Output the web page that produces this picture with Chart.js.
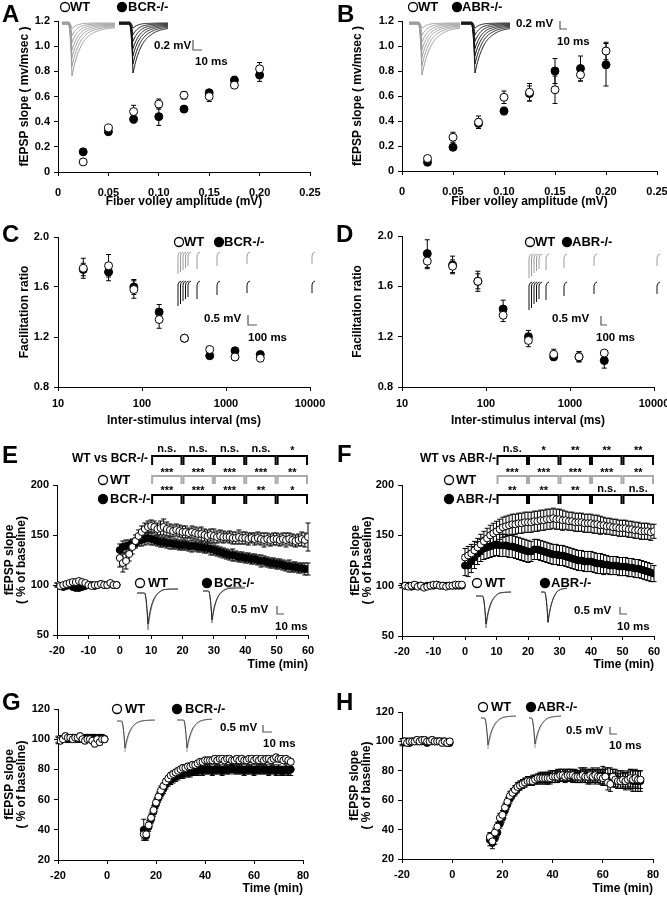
<!DOCTYPE html>
<html>
<head>
<meta charset="utf-8">
<script src="https://cdn.jsdelivr.net/npm/chart.js@4.4.1/dist/chart.umd.min.js"></script>
<style>
    html, body { margin: 0; padding: 0; background: #fff; }
    body { width: 667px; height: 899px; position: relative; overflow: hidden; }
    canvas { position: absolute; }
</style>
</head>
<body>
<script>
// == Data: input/output curves (A, B) ==
const fiberVolley = [0.025, 0.05, 0.075, 0.1, 0.125, 0.15, 0.175, 0.2];
const ioWtA = [0.08, 0.35, 0.48, 0.54, 0.61, 0.60, 0.69, 0.82];
const ioWtAErr = [0.02, 0.02, 0.05, 0.04, 0.03, 0.04, 0.02, 0.05];
const ioBcrA = [0.16, 0.32, 0.42, 0.44, 0.50, 0.63, 0.73, 0.77];
const ioBcrAErr = [0.02, 0.02, 0.03, 0.07, 0.02, 0.02, 0.03, 0.05];
const ioWtB = [0.10, 0.27, 0.39, 0.59, 0.63, 0.65, 0.77, 0.96];
const ioWtBErr = [0.02, 0.04, 0.05, 0.05, 0.07, 0.11, 0.05, 0.07];
const ioAbrB = [0.07, 0.19, 0.38, 0.48, 0.62, 0.80, 0.82, 0.85];
const ioAbrBErr = [0.01, 0.02, 0.04, 0.03, 0.06, 0.10, 0.10, 0.17];

// == Data: paired-pulse facilitation (C, D) ==
const isiMs = [20, 40, 80, 160, 320, 640, 1280, 2560];
const isiTicks = [10, 100, 1000, 10000];
const ppfWtC = [1.75, 1.77, 1.58, 1.34, 1.19, 1.10, 1.04, 1.03];
const ppfWtCErr = [0.08, 0.09, 0.07, 0.07, 0.02, 0.02, 0.02, 0.02];
const ppfBcrC = [1.74, 1.72, 1.60, 1.40, 1.19, 1.05, 1.09, 1.06];
const ppfBcrCErr = [0.05, 0.07, 0.06, 0.06, 0.02, 0.02, 0.02, 0.02];
const ppfWtD = [1.80, 1.76, 1.64, 1.37, 1.17, 1.06, 1.04, 1.07];
const ppfWtDErr = [0.06, 0.05, 0.08, 0.05, 0.05, 0.04, 0.04, 0.02];
const ppfAbrD = [1.86, 1.77, 1.64, 1.42, 1.20, 1.04, 1.04, 1.01];
const ppfAbrDErr = [0.11, 0.07, 0.06, 0.07, 0.05, 0.03, 0.04, 0.06];

// == Data: LTP (E, F) ==
const timeLtp = [-20, -19, -18, -17, -16, -15, -14, -13, -12, -11, -10, -9, -8, -7, -6, -5, -4, -3, -2, -1,
    0, 1, 2, 3, 4, 5, 6, 7, 8, 9, 10, 11, 12, 13, 14, 15, 16, 17, 18, 19, 20, 21, 22, 23, 24, 25, 26, 27, 28, 29, 30,
    31, 32, 33, 34, 35, 36, 37, 38, 39, 40, 41, 42, 43, 44, 45, 46, 47, 48, 49, 50, 51, 52, 53, 54, 55, 56, 57, 58, 59, 60];
const ltpWtE = [100, 99, 100, 101, 102, 103, 103, 104, 103, 102, 100, 99, 100, 100, 101, 100, 100, 102, 100, 100,
    127, 122, 124, 131, 138, 144, 149, 153, 156, 158, 159, 158, 156, 157, 158, 156, 155, 154, 155, 154,
    153, 153, 152, 153, 152, 151, 151, 150, 149, 150, 149, 148, 149, 148, 148, 148, 147, 147, 148, 147,
    147, 146, 147, 146, 147, 146, 145, 146, 145, 146, 146, 145, 146, 145, 146, 145, 144, 145, 146, 145, 148];
const ltpWtEErr = [2, 2, 2, 2, 2, 2, 2, 2, 2, 2, 2, 2, 2, 2, 2, 2, 2, 2, 2, 2,
    9, 9, 8, 7, 7, 6, 6, 6, 6, 6, 6, 6, 6, 7, 8, 7, 6, 6, 6, 6,
    6, 6, 5, 6, 6, 6, 7, 6, 6, 6, 7, 6, 6, 6, 5, 6, 6, 6, 7, 6,
    6, 6, 5, 6, 6, 6, 7, 6, 6, 6, 6, 6, 6, 7, 6, 6, 6, 6, 7, 7, 14];
const ltpBcrE = [100, 99, 98, 99, 100, 98, 97, 97, 98, 99, 100, 100, 99, 100, 101, 100, 100, 101, 100, 100,
    135, 138, 139, 140, 141, 142, 144, 145, 146, 147, 146, 145, 144, 143, 143, 142, 142, 141, 141, 140,
    140, 140, 139, 139, 139, 138, 138, 137, 137, 136, 135, 134, 133, 132, 131, 130, 130, 129, 128, 128,
    127, 127, 126, 126, 125, 124, 124, 123, 122, 122, 121, 121, 120, 119, 119, 118, 118, 117, 117, 116, 116];
const ltpBcrEErr = [2, 2, 2, 2, 2, 2, 2, 2, 2, 2, 2, 2, 2, 2, 2, 2, 2, 2, 2, 2,
    6, 6, 6, 5, 5, 5, 5, 6, 6, 6, 6, 5, 5, 5, 5, 5, 6, 5, 5, 5,
    5, 5, 5, 6, 5, 5, 5, 5, 5, 6, 5, 5, 5, 5, 5, 5, 6, 5, 5, 5,
    5, 5, 5, 5, 5, 6, 5, 5, 5, 5, 5, 5, 5, 5, 6, 5, 5, 5, 5, 6, 6];
const ltpWtF = [100, 100, 99, 100, 101, 99, 100, 98, 99, 100, 101, 101, 100, 100, 99, 100, 100, 101, 101, 101,
    128, 130, 132, 135, 138, 141, 144, 147, 150, 152, 154, 156, 158, 159, 160, 161, 161, 162, 162, 163,
    163, 163, 164, 164, 165, 165, 166, 166, 167, 166, 166, 165, 165, 164, 164, 163, 163, 163, 162, 162,
    162, 161, 161, 160, 160, 159, 159, 158, 158, 157, 157, 157, 156, 156, 155, 155, 154, 154, 154, 153, 154];
const ltpWtFErr = [2, 2, 2, 2, 2, 2, 2, 2, 2, 2, 2, 2, 2, 2, 2, 2, 2, 2, 2, 2,
    9, 9, 9, 9, 9, 10, 10, 10, 10, 10, 10, 10, 10, 10, 10, 10, 10, 10, 10, 10,
    10, 10, 10, 10, 10, 10, 10, 10, 10, 10, 10, 10, 9, 9, 9, 9, 9, 9, 9, 9,
    9, 9, 9, 9, 8, 8, 8, 8, 8, 8, 8, 8, 8, 8, 8, 8, 8, 8, 8, 8, 7];
const ltpAbrF = [100, 100, 100, 99, 100, 100, 100, 99, 100, 100, 100, 101, 100, 100, 100, 100, 100, 100, 100, 100,
    120, 120, 124, 128, 132, 135, 137, 138, 139, 140, 141, 140, 140, 140, 139, 139, 138, 137, 136, 135,
    134, 134, 136, 136, 135, 134, 133, 132, 131, 131, 130, 130, 129, 128, 127, 126, 125, 125, 124, 124,
    124, 123, 122, 122, 121, 121, 120, 120, 120, 119, 119, 119, 118, 118, 117, 117, 116, 115, 114, 113, 112];
const ltpAbrFErr = [2, 2, 2, 2, 2, 2, 2, 2, 2, 2, 2, 2, 2, 2, 2, 2, 2, 2, 2, 2,
    10, 11, 11, 11, 11, 11, 11, 11, 11, 11, 11, 11, 11, 11, 11, 11, 11, 11, 11, 11,
    11, 10, 10, 10, 10, 10, 10, 10, 10, 10, 10, 10, 10, 10, 10, 10, 10, 10, 10, 10,
    10, 10, 10, 10, 10, 9, 9, 9, 9, 9, 9, 9, 9, 9, 9, 9, 9, 9, 9, 9, 8];

// == Data: LTD (G, H) ==
const timeLtd = [-20, -19, -18, -17, -16, -15, -14, -13, -12, -11, -10, -9, -8, -7, -6, -5, -4, -3, -2, -1,
    15, 16, 17, 18, 19, 20, 21, 22, 23, 24, 25, 26, 27, 28, 29, 30, 31, 32, 33, 34, 35, 36, 37, 38, 39, 40,
    41, 42, 43, 44, 45, 46, 47, 48, 49, 50, 51, 52, 53, 54, 55, 56, 57, 58, 59, 60,
    61, 62, 63, 64, 65, 66, 67, 68, 69, 70, 71, 72, 73, 74, 75];
const ltdWtG = [100, 99, 100, 102, 101, 101, 100, 101, 101, 102, 100, 99, 100, 100, 99, 97, 100, 98, 100, 100,
    37, 37, 43, 48, 53, 58, 62, 66, 69, 72, 74, 76, 77, 78, 79, 80, 81, 81, 82, 82,
    83, 83, 84, 85, 85, 86, 86, 86, 86, 87, 86, 87, 87, 86, 87, 87, 86, 86, 87, 86,
    87, 86, 86, 87, 87, 86, 87, 86, 87, 86, 87, 87, 86, 87, 88, 87, 87, 86, 87, 86, 85];
const ltdWtGErr = [2, 2, 2, 2, 2, 2, 2, 2, 2, 2, 2, 2, 2, 2, 2, 2, 2, 2, 2, 2,
    3, 3, 3, 3, 3, 3, 3, 3, 2, 2, 2, 2, 2, 2, 2, 2, 2, 2, 2, 2,
    2, 2, 2, 2, 2, 2, 2, 2, 2, 2, 2, 2, 2, 2, 2, 2, 2, 2, 2, 2,
    2, 2, 2, 2, 2, 2, 2, 2, 2, 2, 2, 2, 2, 2, 2, 2, 2, 2, 2, 2, 2];
const ltdBcrG = [99, 100, 100, 101, 100, 100, 101, 100, 101, 100, 100, 101, 101, 101, 101, 101, 100, 101, 101, 100,
    40, 36, 42, 47, 52, 57, 61, 64, 67, 70, 72, 73, 74, 75, 76, 77, 77, 78, 78, 78,
    79, 79, 79, 80, 79, 80, 80, 80, 79, 80, 80, 80, 79, 80, 80, 80, 81, 80, 80, 80,
    80, 79, 80, 80, 80, 79, 80, 80, 80, 80, 80, 79, 80, 80, 79, 80, 79, 79, 80, 79, 80];
const ltdBcrGErr = [2, 2, 2, 2, 2, 2, 2, 2, 2, 2, 2, 2, 2, 2, 2, 2, 2, 2, 2, 2,
    7, 3, 3, 3, 3, 3, 3, 3, 3, 3, 3, 3, 3, 3, 3, 3, 3, 3, 3, 3,
    3, 3, 3, 3, 3, 3, 3, 3, 3, 3, 3, 3, 3, 3, 3, 3, 3, 3, 3, 3,
    3, 3, 3, 3, 3, 3, 3, 3, 3, 3, 3, 3, 3, 3, 3, 3, 3, 3, 3, 3, 4];
const ltdWtH = [100, 100, 99, 100, 100, 100, 101, 100, 101, 101, 100, 100, 101, 100, 100, 100, 99, 100, 99, 100,
    35, 32, 38, 42, 48, 50, 55, 59, 63, 65, 67, 69, 70, 71, 72, 73, 73, 73, 74, 75,
    75, 75, 75, 75, 75, 76, 76, 76, 77, 77, 76, 77, 77, 77, 76, 76, 76, 77, 76, 76,
    77, 76, 77, 76, 76, 75, 76, 72, 71, 76, 74, 73, 73, 74, 73, 74, 75, 74, 75, 74, 74];
const ltdWtHErr = [2, 2, 2, 2, 2, 2, 2, 2, 2, 2, 2, 2, 2, 2, 2, 2, 2, 2, 2, 2,
    3, 3, 3, 3, 3, 3, 3, 3, 3, 3, 3, 3, 3, 3, 3, 3, 3, 3, 3, 3,
    3, 3, 3, 4, 4, 4, 4, 4, 4, 4, 4, 4, 4, 4, 4, 4, 4, 4, 4, 4,
    4, 4, 4, 4, 5, 5, 5, 5, 5, 5, 5, 5, 5, 5, 5, 5, 6, 6, 6, 6, 6];
const ltdAbrH = [99, 100, 100, 99, 100, 100, 100, 100, 100, 100, 99, 100, 100, 100, 100, 100, 100, 100, 99, 99,
    33, 31, 34, 38, 44, 48, 53, 57, 61, 64, 66, 68, 70, 71, 72, 73, 73, 74, 74, 74,
    75, 75, 75, 75, 76, 76, 76, 77, 77, 77, 77, 77, 77, 76, 77, 76, 77, 77, 77, 76,
    76, 77, 76, 77, 76, 77, 76, 76, 76, 75, 75, 74, 74, 74, 73, 74, 74, 73, 73, 73, 73];
const ltdAbrHErr = [2, 2, 2, 2, 2, 2, 2, 2, 2, 2, 2, 2, 2, 2, 2, 2, 2, 2, 2, 2,
    4, 4, 4, 3, 3, 3, 3, 3, 3, 3, 3, 3, 3, 3, 3, 3, 3, 3, 3, 3,
    4, 4, 4, 4, 4, 4, 4, 4, 4, 4, 4, 4, 4, 4, 4, 4, 5, 5, 5, 5,
    5, 5, 5, 5, 5, 6, 6, 6, 6, 6, 6, 6, 6, 6, 6, 6, 7, 7, 7, 7, 7];

// == Significance (E, F) ==
const sigBounds = [10, 20, 30, 40, 50, 60];
const sigE = [
    ['n.s.', 'n.s.', 'n.s.', 'n.s.', '*'],
    ['***', '***', '***', '***', '**'],
    ['***', '***', '***', '**', '*'],
];
const sigF = [
    ['n.s.', '*', '**', '**', '**'],
    ['***', '***', '***', '***', '**'],
    ['**', '**', '**', 'n.s.', 'n.s.'],
];

// == Utils ==
const FAMILY = "'Liberation Sans', Arial, sans-serif";
Chart.defaults.font.family = FAMILY;
Chart.defaults.color = '#000';

function font(size) {
    return `bold ${size}px ${FAMILY}`;
}

function series(xs, ys, errs, filled, r) {
    return {
        data: xs.map((x, i) => ({ x, y: ys[i] })),
        errors: errs,
        pointRadius: r,
        pointHoverRadius: r,
        pointBackgroundColor: filled ? '#000' : '#fff',
        pointBorderColor: '#000',
        pointBorderWidth: 1,
        showLine: false
    };
}

function legendItem(ctx, x, y, filled, text, tx) {
    ctx.beginPath();
    ctx.arc(x, y, 4.5, 0, Math.PI * 2);
    ctx.fillStyle = filled ? '#000' : '#fff';
    ctx.fill();
    ctx.lineWidth = 1.3;
    ctx.strokeStyle = '#000';
    ctx.stroke();
    ctx.fillStyle = '#000';
    ctx.font = font(13);
    ctx.textAlign = 'left';
    ctx.textBaseline = 'middle';
    ctx.fillText(text, tx, y + 0.5);
}

// fEPSP-like waveform: fast downward deflection then recovery
function drawTrace(ctx, x0, x1, xDip, yBase, yPeak, yEnd, color, tau) {
    ctx.strokeStyle = color;
    ctx.lineWidth = 1;
    ctx.beginPath();
    const rise = 3.5;
    for (let x = x0; x <= x1; x += 0.5) {
        let f = 0;
        if (x >= xDip) f = Math.exp(-(x - xDip) / tau);
        else if (x > xDip - rise) f = Math.pow((x - xDip + rise) / rise, 2);
        const drift = x > xDip ? (yEnd - yBase) * Math.min(1, (x - xDip) / ((x1 - xDip) * 0.5)) : 0;
        const y = yBase + drift * (1 - f) + (yPeak - yBase) * f;
        if (x === x0) ctx.moveTo(x, y); else ctx.lineTo(x, y);
    }
    ctx.stroke();
}

function traceFamily(ctx, x0, x1, xDip, yBase, yMax, color) {
    [0.12, 0.25, 0.38, 0.52, 0.66, 0.82, 1].forEach((f, i) => {
        drawTrace(ctx, x0, x1, xDip, yBase + i * 0.4, yBase + (yMax - yBase) * f, yBase + 1 + i * 0.7, color, 6 + f * 4);
    });
}

function spikes(ctx, xs, yTop, lens, color) {
    ctx.strokeStyle = color;
    ctx.lineWidth = 1;
    xs.forEach((x, i) => {
        ctx.beginPath();
        ctx.moveTo(x + 3, yTop - 2);
        ctx.quadraticCurveTo(x, yTop - 1, x, yTop + 2);
        ctx.lineTo(x, yTop + lens[i]);
        ctx.stroke();
    });
}

function scaleBar(ctx, s) {
    ctx.fillStyle = '#000';
    ctx.font = font(11.5);
    ctx.textAlign = 'left';
    ctx.textBaseline = 'middle';
    ctx.fillText(s.mv, s.mvAt[0], s.mvAt[1]);
    ctx.fillText(s.ms, s.msAt[0], s.msAt[1]);
    ctx.strokeStyle = '#555';
    ctx.lineWidth = 1.2;
    ctx.beginPath();
    ctx.moveTo(s.bar[0], s.bar[1]);
    ctx.lineTo(s.bar[0], s.bar[2]);
    ctx.lineTo(s.bar[3], s.bar[2]);
    ctx.stroke();
}

// brackets sit on the chart's own time axis; ox converts canvas x to page x
function sigBrackets(chart, ctx, sig, ox) {
    const xs = chart.scales.x;
    const rowY = [[449, 456, 465], [471, 476, 484], [489, 495, 504]];
    const colors = ['#000', '#aaa', '#000'];
    sig.rows.forEach((row, r) => {
        row.forEach((label, i) => {
            const a = ox + xs.getPixelForValue(sigBounds[i]) + 1;
            const b = ox + xs.getPixelForValue(sigBounds[i + 1]) - 1;
            ctx.strokeStyle = colors[r];
            ctx.lineWidth = 2;
            ctx.beginPath();
            ctx.moveTo(a, rowY[r][2]);
            ctx.lineTo(a, rowY[r][1]);
            ctx.lineTo(b, rowY[r][1]);
            ctx.lineTo(b, rowY[r][2]);
            ctx.stroke();
            ctx.fillStyle = '#000';
            ctx.font = font(11);
            ctx.textAlign = 'center';
            ctx.textBaseline = 'middle';
            ctx.fillText(label, (a + b) / 2, rowY[r][0] + (label.startsWith('*') ? 2 : 0));
        });
    });
    ctx.font = font(12);
    ctx.textAlign = 'right';
    ctx.textBaseline = 'middle';
    ctx.fillStyle = '#000';
    ctx.fillText(sig.title, sig.titleAt[0], sig.titleAt[1]);
    legendItem(ctx, sig.key[0], 480, false, 'WT', sig.key[1]);
    legendItem(ctx, sig.key[0], 499, true, sig.ko, sig.key[1]);
}

// == Error bars ==
Chart.register({
    id: 'errorBars',
    beforeDatasetsDraw(chart) {
        const ctx = chart.ctx;
        const yScale = chart.scales.y;
        ctx.save();
        ctx.strokeStyle = '#000';
        ctx.lineWidth = 1;
        chart.data.datasets.forEach((ds, di) => {
            if (!ds.errors) return;
            const meta = chart.getDatasetMeta(di);
            meta.data.forEach((pt, i) => {
                const v = ds.data[i].y, e = ds.errors[i];
                const yt = yScale.getPixelForValue(v + e);
                const yb = yScale.getPixelForValue(v - e);
                const cap = 2.5;
                ctx.beginPath();
                ctx.moveTo(pt.x, yt); ctx.lineTo(pt.x, yb);
                ctx.moveTo(pt.x - cap, yt); ctx.lineTo(pt.x + cap, yt);
                ctx.moveTo(pt.x - cap, yb); ctx.lineTo(pt.x + cap, yb);
                ctx.stroke();
            });
        });
        ctx.restore();
    }
});

// == Panels ==
function buildPanel(p) {
    const [cx, cy, cw, ch] = p.box;
    const [L, T, R, B] = p.area;
    const canvas = document.createElement('canvas');
    canvas.width = cw;
    canvas.height = ch;
    canvas.style.left = cx + 'px';
    canvas.style.top = cy + 'px';
    canvas.style.width = cw + 'px';
    canvas.style.height = ch + 'px';
    document.body.appendChild(canvas);

    const border = { display: true, color: '#000', width: 1 };
    const grid = { display: true, drawOnChartArea: false, drawTicks: true, tickLength: 4, color: '#000' };
    const tickFont = { size: 11, weight: 'bold', family: FAMILY };
    const titleFont = { size: 12, weight: 'bold', family: FAMILY, lineHeight: 1 };

    const x = {
        type: p.x.type || 'linear', min: p.x.min, max: p.x.max, border, grid,
        ticks: { font: tickFont, color: '#000', padding: p.x.pad, autoSkip: false, maxRotation: 0, stepSize: p.x.step },
        title: { display: true, text: p.x.title, align: p.x.align || 'center', font: titleFont, color: '#000', padding: { top: 0, bottom: p.x.titlePad } },
        afterFit(s) { s.height = cy + ch - B; s.paddingLeft = 0; s.paddingRight = 0; }
    };
    if (p.x.type === 'logarithmic') {
        x.afterBuildTicks = s => { s.ticks = isiTicks.map(v => ({ value: v })); };
        x.ticks.callback = v => String(v);
    }
    const y = {
        type: 'linear', min: p.y.min, max: p.y.max, border, grid,
        ticks: { font: tickFont, color: '#000', padding: p.y.pad, stepSize: p.y.step },
        title: { display: true, text: p.y.title, font: titleFont, color: '#000', padding: { top: p.y.titlePad, bottom: 0 } },
        afterFit(s) { s.width = L - cx; s.paddingTop = 0; s.paddingBottom = 0; }
    };

    const deco = {
        id: 'deco' + p.letter,
        afterDraw(chart) {
            const ctx = chart.ctx;
            ctx.save();
            ctx.translate(-cx, -cy);
            ctx.fillStyle = '#000';
            ctx.font = font(24);
            ctx.textAlign = 'left';
            ctx.textBaseline = 'alphabetic';
            ctx.fillText(p.letter, p.letterAt[0], p.letterAt[1]);
            p.legend.forEach(([lx, ly, filled, text, tx]) => legendItem(ctx, lx, ly, filled, text, tx));
            scaleBar(ctx, p.scale);
            p.traces(ctx);
            if (p.sig) sigBrackets(chart, ctx, p.sig, cx);
            ctx.restore();
        }
    };

    new Chart(canvas, {
        type: 'scatter',
        data: { datasets: p.datasets },
        options: {
            responsive: false,
            animation: false,
            events: [],
            layout: { padding: { left: 0, top: T - cy, right: cx + cw - R, bottom: 0 } },
            plugins: { legend: { display: false }, tooltip: { enabled: false } },
            scales: { x, y }
        },
        plugins: [deco]
    });
}

const ioY = { min: 0, max: 1.2, step: 0.2, pad: 4, title: 'fEPSP slope ( mv/msec )' };
const ioX = { min: 0, max: 0.25, step: 0.05, pad: 10, title: 'Fiber volley amplitude (mV)', titlePad: 2 };
const ppfY = { min: 0.8, max: 2, step: 0.4, pad: 5, title: 'Facilitation ratio' };
const ppfX = { type: 'logarithmic', min: 10, max: 10000, pad: 6, title: 'Inter-stimulus interval (ms)', titlePad: 3 };
const ltpY = { min: 50, max: 200, step: 50, pad: 4, title: ['fEPSP slope', '( % of baseline)'] };
const ltpX = { min: -20, max: 60, step: 10, pad: 5, title: 'Time (min)', align: 'end', titlePad: 4 };
const ltdY = { min: 20, max: 120, step: 20, pad: 4, title: ['fEPSP slope', '( % of baseline)'] };
const ltdX = { min: -20, max: 80, step: 20, pad: 5, title: 'Time (min)', align: 'end', titlePad: 4 };

buildPanel({
    letter: 'A', letterAt: [2, 22], box: [0, 0, 334, 210], area: [58, 21, 310, 172],
    x: ioX, y: Object.assign({ titlePad: 19 }, ioY),
    datasets: [series(fiberVolley, ioWtA, ioWtAErr, false, 4), series(fiberVolley, ioBcrA, ioBcrAErr, true, 4)],
    legend: [[65, 7, false, 'WT', 70], [122, 7, true, 'BCR-/-', 128]],
    scale: { mv: '0.2 mV', mvAt: [154, 46], ms: '10 ms', msAt: [195, 62], bar: [193, 40, 50, 202] },
    traces: ctx => {
        traceFamily(ctx, 62, 115, 72, 22, 76, '#999');
        traceFamily(ctx, 119, 168, 133, 22, 73, '#111');
    }
});

buildPanel({
    letter: 'B', letterAt: [337, 22], box: [334, 0, 333, 210], area: [402, 21, 657, 171],
    x: ioX, y: Object.assign({ titlePad: 18 }, ioY),
    datasets: [series(fiberVolley, ioWtB, ioWtBErr, false, 4), series(fiberVolley, ioAbrB, ioAbrBErr, true, 4)],
    legend: [[413, 7, false, 'WT', 418], [457, 7, true, 'ABR-/-', 462]],
    scale: { mv: '0.2 mV', mvAt: [516, 24], ms: '10 ms', msAt: [557, 42], bar: [560, 21, 29, 567] },
    traces: ctx => {
        traceFamily(ctx, 409, 460, 422, 22, 75, '#999');
        traceFamily(ctx, 461, 510, 475, 22, 73, '#111');
    }
});

buildPanel({
    letter: 'C', letterAt: [2, 242], box: [0, 215, 334, 215], area: [58, 237, 310, 387],
    x: ppfX, y: Object.assign({ titlePad: 19 }, ppfY),
    datasets: [series(isiMs, ppfWtC, ppfWtCErr, false, 4), series(isiMs, ppfBcrC, ppfBcrCErr, true, 4)],
    legend: [[179, 242, false, 'WT', 184], [219, 242, true, 'BCR-/-', 224]],
    scale: { mv: '0.5 mV', mvAt: [204, 319], ms: '100 ms', msAt: [248, 338], bar: [248, 315, 325, 257] },
    traces: ctx => {
        spikes(ctx, [178, 180.5, 183, 185.5, 188, 197, 217, 247, 312], 254, [20, 18, 16, 14, 12, 15, 12, 10, 10], '#999');
        spikes(ctx, [178, 180.5, 183, 185.5, 188, 197, 217, 247, 312], 283, [23, 21, 18, 16, 14, 16, 12, 10, 10], '#111');
    }
});

buildPanel({
    letter: 'D', letterAt: [336, 242], box: [334, 215, 333, 215], area: [402, 236, 654, 387],
    x: ppfX, y: Object.assign({ titlePad: 18 }, ppfY),
    datasets: [series(isiMs, ppfWtD, ppfWtDErr, false, 4), series(isiMs, ppfAbrD, ppfAbrDErr, true, 4)],
    legend: [[530, 242, false, 'WT', 535], [567, 242, true, 'ABR-/-', 572]],
    scale: { mv: '0.5 mV', mvAt: [552, 319], ms: '100 ms', msAt: [596, 338], bar: [601, 316, 325, 607] },
    traces: ctx => {
        spikes(ctx, [529, 531.5, 534, 536.5, 539, 546, 564, 594, 657], 256, [22, 20, 17, 15, 13, 14, 12, 10, 10], '#999');
        spikes(ctx, [529, 531.5, 534, 536.5, 539, 546, 564, 594, 657], 284, [26, 24, 20, 18, 15, 16, 12, 10, 10], '#111');
    }
});

buildPanel({
    letter: 'E', letterAt: [2, 463], box: [0, 430, 334, 245], area: [57, 485, 308, 635],
    x: ltpX, y: Object.assign({ titlePad: 4 }, ltpY),
    datasets: [series(timeLtp, ltpWtE, ltpWtEErr, false, 3.5), series(timeLtp, ltpBcrE, ltpBcrEErr, true, 3.5)],
    legend: [[140, 583, false, 'WT', 148], [207, 583, true, 'BCR-/-', 214]],
    scale: { mv: '0.5 mV', mvAt: [231, 610], ms: '10 ms', msAt: [275, 627], bar: [277, 606, 614, 284] },
    sig: { rows: sigE, title: 'WT vs BCR-/-', titleAt: [148, 459], key: [103, 110], ko: 'BCR-/-' },
    traces: ctx => {
        drawTrace(ctx, 137, 178, 148, 593, 630, 589, '#888', 4);
        drawTrace(ctx, 137, 178, 148, 593, 624, 589, '#222', 4);
        drawTrace(ctx, 203, 245, 212, 591, 623, 587, '#888', 4);
        drawTrace(ctx, 203, 245, 212, 591, 620, 588, '#222', 4);
    }
});

buildPanel({
    letter: 'F', letterAt: [337, 462], box: [334, 430, 333, 245], area: [402, 485, 654, 636],
    x: ltpX, y: Object.assign({ titlePad: 16 }, ltpY),
    datasets: [series(timeLtp, ltpWtF, ltpWtFErr, false, 3.5), series(timeLtp, ltpAbrF, ltpAbrFErr, true, 3.5)],
    legend: [[477, 583, false, 'WT', 485], [545, 583, true, 'ABR-/-', 551]],
    scale: { mv: '0.5 mV', mvAt: [574, 611], ms: '10 ms', msAt: [617, 627], bar: [620, 607, 614, 627] },
    sig: { rows: sigF, title: 'WT vs ABR-/-', titleAt: [496, 459], key: [449, 456], ko: 'ABR-/-' },
    traces: ctx => {
        drawTrace(ctx, 476, 511, 486, 596, 628, 592, '#888', 4);
        drawTrace(ctx, 476, 511, 486, 596, 624, 592, '#222', 4);
        drawTrace(ctx, 541, 567, 548, 592, 623, 588, '#888', 4);
        drawTrace(ctx, 541, 567, 548, 592, 622, 588, '#222', 4);
    }
});

buildPanel({
    letter: 'G', letterAt: [2, 710], box: [0, 680, 334, 219], area: [58, 709, 303, 860],
    x: ltdX, y: Object.assign({ titlePad: 4 }, ltdY),
    datasets: [series(timeLtd, ltdWtG, ltdWtGErr, false, 3.5), series(timeLtd, ltdBcrG, ltdBcrGErr, true, 3.5)],
    legend: [[117, 709, false, 'WT', 125], [177, 709, true, 'BCR-/-', 185]],
    scale: { mv: '0.5 mV', mvAt: [220, 728], ms: '10 ms', msAt: [263, 744], bar: [263, 725, 732, 272] },
    traces: ctx => {
        drawTrace(ctx, 117, 155, 125, 721, 752, 720, '#bbb', 5);
        drawTrace(ctx, 117, 155, 125, 721, 748, 720, '#444', 5);
        drawTrace(ctx, 177, 212, 187, 720, 752, 719, '#bbb', 5);
        drawTrace(ctx, 177, 212, 187, 720, 748, 719, '#444', 5);
    }
});

buildPanel({
    letter: 'H', letterAt: [336, 710], box: [334, 680, 333, 219], area: [402, 712, 653, 859],
    x: ltdX, y: Object.assign({ titlePad: 15 }, ltdY),
    datasets: [series(timeLtd, ltdWtH, ltdWtHErr, false, 3.5), series(timeLtd, ltdAbrH, ltdAbrHErr, true, 3.5)],
    legend: [[483, 707, false, 'WT', 491], [531, 707, true, 'ABR-/-', 537]],
    scale: { mv: '0.5 mV', mvAt: [566, 731], ms: '10 ms', msAt: [609, 746], bar: [610, 727, 734, 617] },
    traces: ctx => {
        drawTrace(ctx, 481, 516, 488, 718, 749, 716, '#bbb', 5);
        drawTrace(ctx, 481, 516, 488, 718, 745, 716, '#444', 5);
        drawTrace(ctx, 529, 561, 535, 718, 748, 716, '#bbb', 5);
        drawTrace(ctx, 529, 561, 535, 718, 744, 716, '#444', 5);
    }
});
</script>
</body>
</html>
